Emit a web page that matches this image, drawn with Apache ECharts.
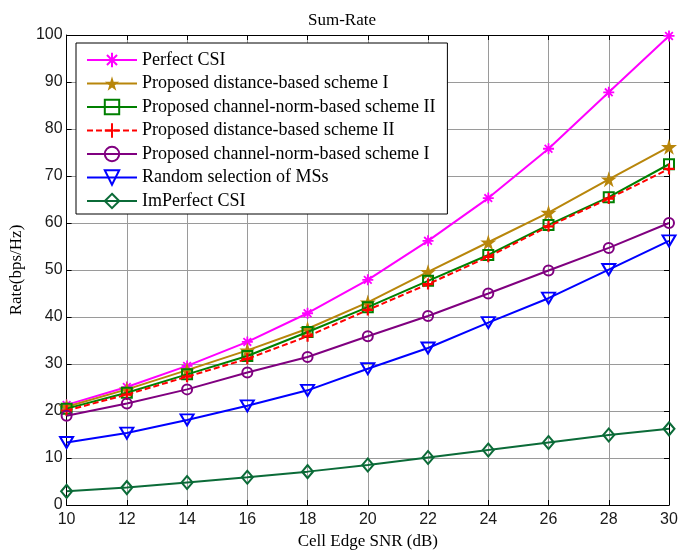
<!DOCTYPE html>
<html>
<head>
<meta charset="utf-8">
<script src="https://cdn.jsdelivr.net/npm/echarts@6/dist/echarts.min.js"></script>
<style>html,body{margin:0;padding:0;background:#fff}#c{width:684px;height:555px}</style>
</head>
<body>
<div id="c"></div>
<script>
const snr = [10, 12, 14, 16, 18, 20, 22, 24, 26, 28, 30];
const perfectCSI = [21.3, 25.1, 29.6, 34.7, 40.8, 47.9, 56.2, 65.3, 75.8, 87.8, 99.8];
const distSchemeI = [20.9, 24.6, 28.7, 32.9, 37.5, 43.1, 49.6, 55.9, 62.2, 69.3, 76.2];
const normSchemeII = [20.5, 23.9, 27.8, 31.7, 36.8, 42.1, 47.7, 53.2, 59.6, 65.5, 72.5];
const distSchemeII = [20.1, 23.5, 27.3, 31.1, 35.9, 41.5, 47.0, 52.8, 59.3, 65.2, 71.5];
const normSchemeI = [19.0, 21.6, 24.6, 28.2, 31.5, 35.9, 40.2, 45.0, 49.9, 54.7, 60.0];
const randomMS = [13.3, 15.3, 18.1, 21.1, 24.4, 29.0, 33.4, 38.8, 44.0, 50.1, 56.2];
const imperfectCSI = [2.9, 3.7, 4.8, 5.9, 7.1, 8.5, 10.1, 11.7, 13.3, 14.9, 16.2];
const seriesNames = [
  'Perfect CSI',
  'Proposed distance-based scheme I',
  'Proposed channel-norm-based scheme II',
  'Proposed distance-based scheme II',
  'Proposed channel-norm-based scheme I',
  'Random selection of MSs',
  'ImPerfect CSI'
];
const xTicks = {min: 10, max: 30, interval: 2};
const yTicks = {min: 0, max: 100, interval: 10};

const STAR = 'path://M50,0 L61,35 L98,35 L68,57 L79,91 L50,70 L21,91 L32,57 L2,35 L39,35 Z';
const ASTER = 'path://M5,0 L5,10 M0,5 L10,5 M1.5,1.5 L8.5,8.5 M8.5,1.5 L1.5,8.5';
const PLUS = 'path://M5,0 L5,10 M0,5 L10,5';

function pairs(ys){ return snr.map((x,i)=>[x, ys[i]]); }

const styles = [
  {data: perfectCSI, color: '#ff00ff', symbol: ASTER, size: 11, fill: 'rgba(0,0,0,0)', bw: 1.8},
  {data: distSchemeI, color: '#b8860b', symbol: STAR, size: 16, fill: '#b8860b', bw: 0},
  {data: normSchemeII, color: '#008000', symbol: 'rect', size: 10, fill: 'rgba(0,0,0,0)', bw: 2},
  {data: distSchemeII, color: '#ff0000', symbol: PLUS, size: 11, fill: 'rgba(0,0,0,0)', bw: 2.2, dashed: true},
  {data: normSchemeI, color: '#800080', symbol: 'circle', size: 10, fill: 'rgba(0,0,0,0)', bw: 2},
  {data: randomMS, color: '#0000ff', symbol: 'triangle', size: [13, 11], fill: 'rgba(0,0,0,0)', bw: 2, rot: 180},
  {data: imperfectCSI, color: '#0b6b38', symbol: 'diamond', size: [11, 13], fill: 'rgba(0,0,0,0)', bw: 2}
];

const series = styles.map((s, i) => ({
  name: seriesNames[i],
  type: 'line',
  data: pairs(s.data),
  symbol: s.symbol,
  symbolSize: s.size,
  symbolRotate: s.rot || 0,
  showAllSymbol: true,
  lineStyle: {color: s.color, width: 2, type: s.dashed ? [6, 3] : 'solid'},
  itemStyle: {color: s.fill, borderColor: s.color, borderWidth: s.bw},
  emphasis: {disabled: true},
  z: 2 + i
}));

const serif = 'Liberation Serif';
const sans = 'Liberation Sans';
const axisLine = {show: true, onZero: false, lineStyle: {color: '#000', width: 1}};
const tick = {show: true, inside: true, length: 5, lineStyle: {color: '#000', width: 1}};

const chart = echarts.init(document.getElementById('c'), null, {renderer: 'canvas'});
chart.setOption({
  animation: false,
  backgroundColor: '#fff',
  title: {
    text: 'Sum-Rate', left: 'center', top: 7,
    textStyle: {fontFamily: serif, fontSize: 17, fontWeight: 'normal', color: '#000'}
  },
  grid: {left: 66, right: 15, top: 35, bottom: 48, containLabel: false},
  legend: {
    orient: 'vertical', left: 76, top: 43,
    itemWidth: 50, itemHeight: 18, itemGap: 3.5,
    padding: [7, 12, 3, 10],
    backgroundColor: '#fff', borderColor: '#000', borderWidth: 1,
    textStyle: {fontFamily: serif, fontSize: 18, lineHeight: 20, color: '#000'},
    data: seriesNames
  },
  xAxis: [
    {
      type: 'value', min: xTicks.min, max: xTicks.max, interval: xTicks.interval, position: 'bottom',
      name: 'Cell Edge SNR (dB)', nameLocation: 'middle', nameGap: 28,
      nameTextStyle: {fontFamily: serif, fontSize: 17, color: '#000'},
      axisLine: axisLine, axisTick: tick,
      axisLabel: {fontFamily: sans, fontSize: 16, color: '#1a1a1a', margin: 7},
      splitLine: {show: true, lineStyle: {color: '#9a9a9a', width: 1}}
    },
    {
      type: 'value', min: xTicks.min, max: xTicks.max, interval: xTicks.interval, position: 'top',
      axisLine: axisLine, axisTick: tick, axisLabel: {show: false}, splitLine: {show: false}
    }
  ],
  yAxis: [
    {
      type: 'value', min: yTicks.min, max: yTicks.max, interval: yTicks.interval, position: 'left',
      name: 'Rate(bps/Hz)', nameLocation: 'middle', nameGap: 38, nameRotate: 90,
      nameTextStyle: {fontFamily: serif, fontSize: 17, color: '#000'},
      axisLine: axisLine, axisTick: tick,
      axisLabel: {fontFamily: sans, fontSize: 16, color: '#1a1a1a', margin: 4},
      splitLine: {show: true, lineStyle: {color: '#9a9a9a', width: 1}}
    },
    {
      type: 'value', min: yTicks.min, max: yTicks.max, interval: yTicks.interval, position: 'right',
      axisLine: axisLine, axisTick: tick, axisLabel: {show: false}, splitLine: {show: false}
    }
  ],
  series: series
});
</script>
</body>
</html>
